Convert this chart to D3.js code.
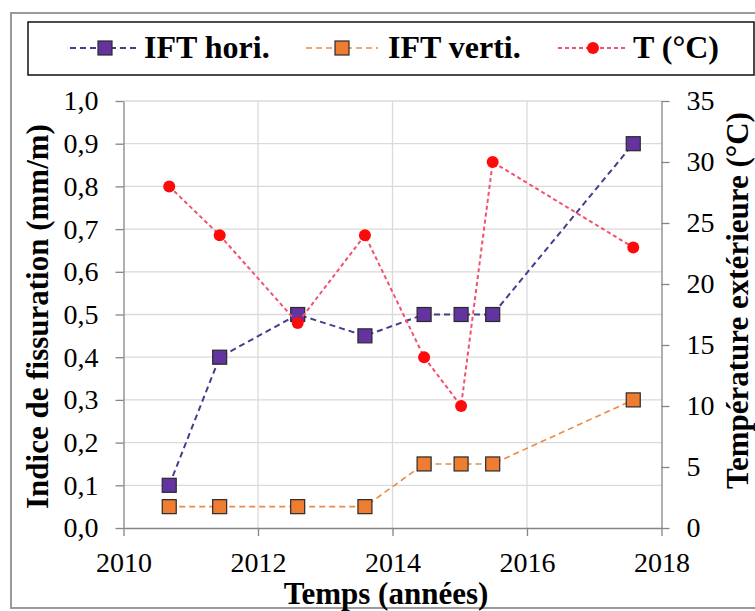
<!DOCTYPE html>
<html>
<head>
<meta charset="utf-8">
<script src="https://cdn.jsdelivr.net/npm/d3@7"></script>
<style>
  html, body { margin: 0; padding: 0; background: #ffffff; }
  svg { display: block; }
  text { font-family: "Liberation Serif", "Times New Roman", serif; fill: #000; }
</style>
</head>
<body>
<svg id="chart" width="755" height="611"></svg>
<script>
// Survey dates (decimal years)
const years = [2010.68, 2011.43, 2012.59, 2013.59, 2014.47, 2015.02, 2015.49, 2017.58];
// Crack index, horizontal and vertical (mm/m)
const iftHori = [0.1, 0.4, 0.5, 0.45, 0.5, 0.5, 0.5, 0.9];
const iftVerti = [0.05, 0.05, 0.05, 0.05, 0.15, 0.15, 0.15, 0.3];
// Outside temperature (°C)
const tempExt = [28, 24, 16.8, 24, 14, 10, 30, 23];

const seriesNames = ["IFT hori.", "IFT verti.", "T (°C)"];
const xTicks = [2010, 2012, 2014, 2016, 2018];
const leftTicks = [0, 0.1, 0.2, 0.3, 0.4, 0.5, 0.6, 0.7, 0.8, 0.9, 1.0];
const rightTicks = [0, 5, 10, 15, 20, 25, 30, 35];

const svg = d3.select("#chart");

const plot = { left: 123.5, right: 661.5, top: 101, bottom: 528 };

const x = d3.scaleLinear().domain([2010, 2018]).range([plot.left, plot.right]);
const yL = d3.scaleLinear().domain([0, 1]).range([plot.bottom, plot.top]);
const yR = d3.scaleLinear().domain([0, 35]).range([plot.bottom, plot.top]);

const styles = {
  hori:  { line: "#4b3b8c", fill: "#6334a0", dash: "6,4", width: 2 },
  verti: { line: "#ea8a45", fill: "#ee7d31", dash: "6,4", width: 1.6 },
  temp:  { line: "#f2506e", fill: "#ff0a0a", dash: "4,3", width: 2 }
};

// outer frame
svg.append("rect")
  .attr("x", 11).attr("y", 13).attr("width", 760).attr("height", 595)
  .attr("fill", "none").attr("stroke", "#9a9a9a").attr("stroke-width", 2);

// gridlines
const grid = svg.append("g");
grid.selectAll("line.h").data(leftTicks.slice(1)).join("line")
  .attr("x1", plot.left).attr("x2", plot.right)
  .attr("y1", d => yL(d)).attr("y2", d => yL(d))
  .attr("stroke", "#dadada").attr("stroke-width", 1.3);
grid.selectAll("line.v").data(xTicks.slice(1, -1)).join("line")
  .attr("x1", d => x(d)).attr("x2", d => x(d))
  .attr("y1", plot.top).attr("y2", plot.bottom)
  .attr("stroke", "#dadada").attr("stroke-width", 1.3);

// axes
function styleAxis(g) {
  g.attr("font-family", null);
  g.selectAll(".domain").attr("stroke", "#858585").attr("stroke-width", 1.3);
  g.selectAll(".tick line").attr("stroke", "#858585").attr("stroke-width", 1.3);
  g.selectAll(".tick text").attr("font-size", 28).attr("fill", "#000");
}

const fmtComma = d => d3.format(".1f")(d).replace(".", ",");

const axL = svg.append("g").attr("transform", `translate(${plot.left},0)`)
  .call(d3.axisLeft(yL).tickValues(leftTicks).tickFormat(fmtComma).tickSize(8).tickPadding(17).tickSizeOuter(0));
styleAxis(axL);

const axR = svg.append("g").attr("transform", `translate(${plot.right},0)`)
  .call(d3.axisRight(yR).tickValues(rightTicks).tickFormat(d3.format("d")).tickSize(8).tickPadding(17).tickSizeOuter(0));
styleAxis(axR);

const axB = svg.append("g").attr("transform", `translate(0,${plot.bottom})`)
  .call(d3.axisBottom(x).tickValues(xTicks).tickFormat(d3.format("d")).tickSize(8).tickPadding(16).tickSizeOuter(0));
styleAxis(axB);
axB.selectAll(".tick text").attr("dy", "0.71em");

// series
const series = [
  { key: "verti", values: iftVerti, y: yL, shape: "square" },
  { key: "hori", values: iftHori, y: yL, shape: "square" },
  { key: "temp", values: tempExt, y: yR, shape: "circle" }
];

const sq = 14;
series.forEach(s => {
  const st = styles[s.key];
  const pts = years.map((yr, i) => [yr, s.values[i]]);
  svg.append("path")
    .datum(pts)
    .attr("fill", "none")
    .attr("stroke", st.line)
    .attr("stroke-width", st.width)
    .attr("stroke-dasharray", st.dash)
    .attr("d", d3.line().x(d => x(d[0])).y(d => s.y(d[1])));
  const g = svg.append("g");
  if (s.shape === "square") {
    g.selectAll("rect").data(pts).join("rect")
      .attr("x", d => x(d[0]) - sq / 2).attr("y", d => s.y(d[1]) - sq / 2)
      .attr("width", sq).attr("height", sq)
      .attr("fill", st.fill).attr("stroke", "#2a2a2a").attr("stroke-width", 1.2);
  } else {
    g.selectAll("circle").data(pts).join("circle")
      .attr("cx", d => x(d[0])).attr("cy", d => s.y(d[1])).attr("r", 6)
      .attr("fill", st.fill);
  }
});

// axis titles
svg.append("text")
  .attr("transform", `translate(48,${(plot.top + plot.bottom) / 2 + 2}) rotate(-90)`)
  .attr("text-anchor", "middle").attr("font-size", 31).attr("font-weight", "bold")
  .text("Indice de fissuration (mm/m)");

svg.append("text")
  .attr("transform", `translate(748,${(plot.top + plot.bottom) / 2 - 14}) rotate(-90)`)
  .attr("text-anchor", "middle").attr("font-size", 31).attr("font-weight", "bold")
  .text("Température extérieure (°C)");

svg.append("text")
  .attr("x", 386).attr("y", 604)
  .attr("text-anchor", "middle").attr("font-size", 31).attr("font-weight", "bold")
  .text("Temps (années)");

// legend
const legend = svg.append("g");
legend.append("rect")
  .attr("x", 28).attr("y", 22).attr("width", 726).attr("height", 53)
  .attr("fill", "#fff").attr("stroke", "#111").attr("stroke-width", 1.5);

const legendItems = [
  { key: "hori", name: seriesNames[0], x0: 70, x1: 140, tx: 144, shape: "square" },
  { key: "verti", name: seriesNames[1], x0: 306, x1: 378, tx: 388, shape: "square" },
  { key: "temp", name: seriesNames[2], x0: 558, x1: 628, tx: 633, shape: "circle" }
];
const ly = 48;
legendItems.forEach(it => {
  const st = styles[it.key];
  const cx = (it.x0 + it.x1) / 2;
  legend.append("line")
    .attr("x1", it.x0).attr("x2", it.x1).attr("y1", ly).attr("y2", ly)
    .attr("stroke", st.line).attr("stroke-width", st.width).attr("stroke-dasharray", st.dash);
  if (it.shape === "square") {
    legend.append("rect")
      .attr("x", cx - sq / 2).attr("y", ly - sq / 2).attr("width", sq).attr("height", sq)
      .attr("fill", st.fill).attr("stroke", "#2a2a2a").attr("stroke-width", 1.2);
  } else {
    legend.append("circle").attr("cx", cx).attr("cy", ly).attr("r", 6).attr("fill", st.fill);
  }
  legend.append("text")
    .attr("x", it.tx).attr("y", 58)
    .attr("font-size", 32).attr("font-weight", "bold")
    .text(it.name);
});
</script>
</body>
</html>
